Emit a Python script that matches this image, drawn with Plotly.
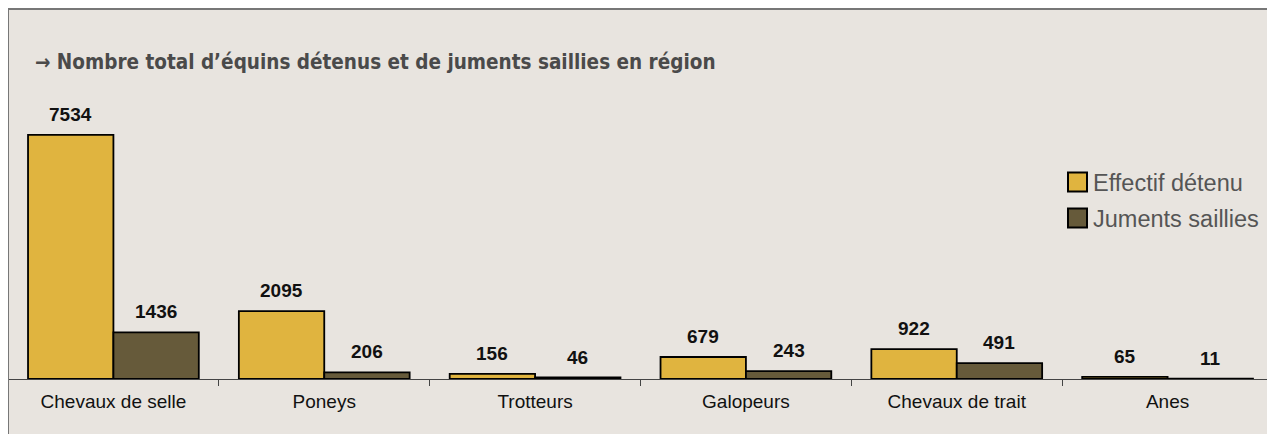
import plotly.graph_objects as go

categories = ["Chevaux de selle", "Poneys", "Trotteurs", "Galopeurs", "Chevaux de trait", "Anes"]
effectif = [7534, 2095, 156, 679, 922, 65]
juments = [1436, 206, 46, 243, 491, 11]
series_names = ["Effectif détenu", "Juments saillies"]
colors = ["#E0B43F", "#665A3A"]
title_text = "→ Nombre total d’équins détenus et de juments saillies en région"

# figure is placed at (8, 8) in the page by the default body margin
W, H = 1267, 426
ml, mr, mt, mb = 0, 2, 92, 55
bg = "#E8E4DF"
ph = H - mt - mb
pw = W - ml - mr
bargap = 0.19
cat_w = pw / len(categories)
bar_w = cat_w * (1 - bargap) / 2


def px2x(px):
    return (px - ml) / pw


def py2y(py):
    return (H - mb - py) / ph


fig = go.Figure()
for name, vals, col in zip(series_names, [effectif, juments], colors):
    fig.add_trace(go.Bar(
        x=categories, y=vals, name=name,
        marker=dict(color=col, line=dict(color="#000000", width=1.8)),
        showlegend=False,
    ))

# value labels
for vals, shift in [(effectif, -bar_w / 2), (juments, bar_w / 2)]:
    for c, v in zip(categories, vals):
        fig.add_annotation(x=c, y=v, text="<b>%d</b>" % v, showarrow=False,
                           xshift=shift, yshift=8, yanchor="bottom",
                           font=dict(family="Liberation Sans, Arial", size=19, color="#111111"))

fig.update_layout(
    width=W, height=H,
    margin=dict(l=ml, r=mr, t=mt, b=mb),
    paper_bgcolor=bg, plot_bgcolor=bg,
    barmode="group", bargap=bargap, bargroupgap=0,
    showlegend=False,
    title=dict(text="<b>" + title_text + "</b>", x=27 / W, xref="container", xanchor="left",
               y=1 - 54 / H, yref="container", yanchor="middle",
               font=dict(family="DejaVu Sans Condensed", size=20.5, color="#4A4A4A")),
    xaxis=dict(showline=True, linecolor="#444444", linewidth=1, ticks="outside", ticklen=6,
               tickcolor="#444444", tickson="boundaries", showgrid=False, ticklabelstandoff=5,
               tickfont=dict(family="Liberation Sans, Arial", size=19, color="#111111")),
    yaxis=dict(range=[0, 8611], visible=False, showgrid=False),
)

# custom legend with larger squares
leg_x = 1060  # figure px, left of square
leg_rows = [174, 210]  # figure px, centre of each row
sq = 19
for name, col, yc in zip(series_names, colors, leg_rows):
    fig.add_shape(type="rect", xref="paper", yref="paper",
                  x0=px2x(leg_x), x1=px2x(leg_x + sq), y0=py2y(yc + sq / 2), y1=py2y(yc - sq / 2),
                  fillcolor=col, line=dict(color="#000000", width=2))
    fig.add_annotation(xref="paper", yref="paper", x=px2x(leg_x + sq + 4), y=py2y(yc + 1),
                       xanchor="left", yanchor="middle", showarrow=False, text=name,
                       font=dict(family="Liberation Sans, Arial", size=23.5, color="#555555"))

# frame (top and left)
fig.add_shape(type="line", xref="paper", yref="paper", x0=px2x(0), x1=px2x(W + 5), y0=py2y(1), y1=py2y(1),
              line=dict(color="#777777", width=2))
fig.add_shape(type="line", xref="paper", yref="paper", x0=px2x(0), x1=px2x(0), y0=py2y(1), y1=py2y(H + 5),
              line=dict(color="#777777", width=2))

fig.write_html("out.html")
